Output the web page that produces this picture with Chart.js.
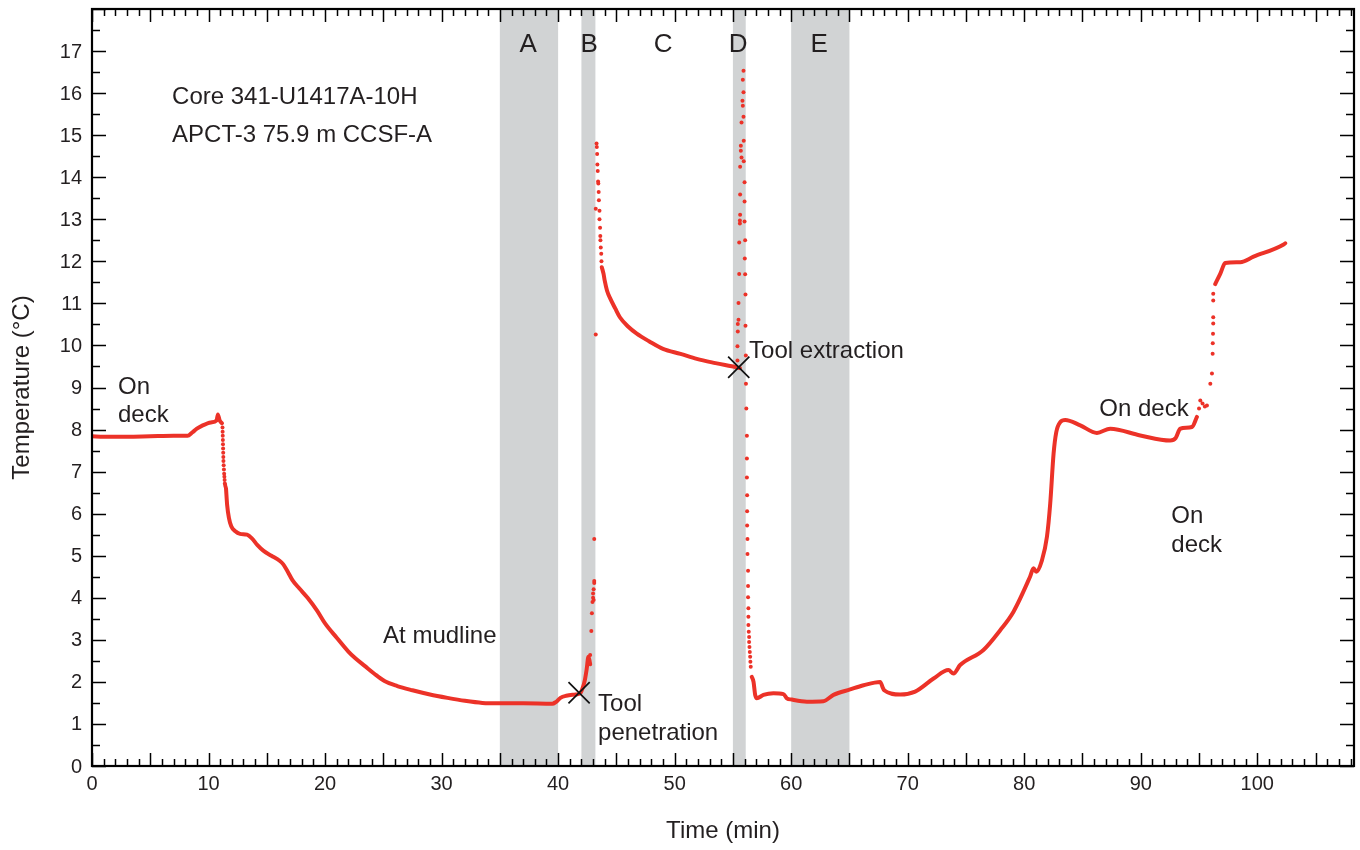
<!DOCTYPE html>
<html>
<head>
<meta charset="utf-8">
<script src="https://cdn.jsdelivr.net/npm/chart.js@4.4.1/dist/chart.umd.min.js"></script>
<style>
html,body{margin:0;padding:0;background:#fff;}
#wrap{width:1360px;height:850px;position:relative;}
</style>
</head>
<body>
<div id="wrap"><canvas id="c" width="1360" height="850"></canvas></div>
<script>
// ---- Data ----
// Continuous trace segments (null separates segments)
const traceX = [0, 1, 3, 5, 7, 8.2, 8.6, 9.0, 9.5, 10.2, 10.7, 10.8, 10.95, 11.15, null,
  11.5, 11.6, 11.75, 11.95, 12.3, 12.7, 13.3, 13.7, 14.2, 14.7, 15.4, 16.1, 16.4, 16.8, 17.2, 17.8, 18.5, 19.3, 20.0, 21.0, 22.0, 22.6, 23.4, 24.2, 25.1, 26.2, 27.5, 29, 30.5, 32, 33.5, 35, 37, 39.5, 39.8, 40.2, 40.7, 41.5, 41.9, 42.1, 42.3, 42.45, 42.6, 42.7, 42.75, null,
  43.75, 43.9, 44.0, 44.2, 44.5, 44.9, 45.3, 46.0, 46.75, 47.8, 49.0, 50.5, 51.9, 53.5, 55.3, 55.6, null,
  56.62, 56.77, 56.91, 57.05, 57.62, 58.48, 59.34, 59.63, 60.06, 61.35, 62.77, 63.63, 65.06, 66.21, 67.64, 67.87, 67.98, 69.36, 70.64, 72.22, 73.5, 73.93, 74.5, 76.5, 77.94, 79.08, 80.5, 80.8, 81.03, 81.52, 81.95, 82.23, 82.52, 82.75, 83.1, 83.52, 84.81, 86.24, 87.38, 89.96, 92.53, 93.0, 93.39, 94.39, 94.82, null,
  96.39, 96.82, 97.25, 98.54, 99.68, 102.26, 102.4];
const traceY = [7.84, 7.83, 7.83, 7.84, 7.85, 7.85, 7.93, 8.02, 8.1, 8.17, 8.22, 8.36, 8.22, 8.15, null,
  6.6, 6.2, 5.9, 5.7, 5.58, 5.52, 5.5, 5.42, 5.25, 5.12, 5.0, 4.88, 4.8, 4.62, 4.42, 4.22, 4.0, 3.7, 3.39, 3.05, 2.72, 2.56, 2.38, 2.2, 2.02, 1.9, 1.8, 1.7, 1.62, 1.55, 1.5, 1.49, 1.49, 1.48, 1.52, 1.62, 1.67, 1.7, 1.73, 1.85, 2.05, 2.3, 2.6, 2.5, 2.42, null,
  11.86, 11.7, 11.54, 11.3, 11.1, 10.88, 10.67, 10.45, 10.28, 10.1, 9.92, 9.8, 9.68, 9.58, 9.48, 9.46, null,
  2.12, 2.0, 1.69, 1.61, 1.69, 1.73, 1.71, 1.61, 1.58, 1.53, 1.54, 1.69, 1.82, 1.92, 2.0, 1.86, 1.8, 1.7, 1.77, 2.08, 2.28, 2.2, 2.4, 2.76, 3.23, 3.67, 4.5, 4.7, 4.62, 4.89, 5.45, 6.24, 7.43, 7.94, 8.18, 8.23, 8.1, 7.92, 8.02, 7.86, 7.74, 7.8, 8.02, 8.06, 8.3, null,
  11.46, 11.7, 11.96, 11.98, 12.11, 12.4, 12.43];

// Sparse individual samples during fast temperature changes
const dotsX = [11.2, 11.21, 11.22, 11.23, 11.24, 11.25, 11.26, 11.27, 11.28, 11.3, 11.32, 11.34, 11.36, 11.38, 11.4, 11.43, 11.46,
  42.75, 42.85, 42.9, 42.95, 43.0, 43.0, 43.05, 43.1, 43.1, 43.05, 43.1, 43.23, 43.23,
  43.3, 43.32, 43.35, 43.37, 43.4, 43.43, 43.45, 43.48, 43.5, 43.55, 43.55, 43.6, 43.62, 43.63, 43.66, 43.7, 43.72,
  55.91, 55.85, 55.91, 55.82, 55.85, 55.91, 55.74, 55.93, 55.68, 55.68, 55.74, 55.93, 55.62, 56.0, 55.62, 56.0, 55.62, 55.6, 56.0, 55.6, 55.54, 56.05, 56.02, 55.54, 56.05, 56.08, 55.48, 55.48, 55.42, 56.08, 55.42, 55.39, 55.39, 56.11, 56.12, 56.15,
  56.2, 56.2, 56.2, 56.22, 56.22, 56.22, 56.25, 56.25, 56.3, 56.3, 56.3, 56.33, 56.33, 56.33, 56.36, 56.39, 56.39, 56.42, 56.45, 56.48, 56.5, 56.53,
  95.0, 95.11, 95.3, 95.5, 95.68, 95.97, 96.11, 96.17, 96.18, 96.2, 96.22, 96.22, 96.22, 96.22];
const dotsY = [8.05, 7.95, 7.85, 7.75, 7.65, 7.55, 7.45, 7.35, 7.25, 7.15, 7.05, 6.95, 6.88, 6.8, 6.72, 6.68, 6.64,
  2.64, 3.21, 3.63, 3.9, 4.0, 4.1, 4.2, 4.35, 4.4, 3.95, 5.4, 13.25, 10.26,
  14.8, 14.72, 14.55, 14.3, 14.15, 13.9, 13.85, 13.65, 13.45, 13.2, 13.0, 12.8, 12.6, 12.5, 12.33, 12.18, 12.0,
  16.53, 16.32, 16.02, 15.82, 15.7, 15.44, 15.3, 14.87, 14.75, 14.63, 14.47, 14.38, 14.25, 13.88, 13.59, 13.42, 13.11, 12.97, 12.95, 12.9, 12.45, 12.5, 12.07, 11.7, 11.69, 11.21, 11.01, 10.61, 10.51, 10.47, 10.33, 9.98, 9.64, 9.76, 9.09, 8.5,
  7.85, 7.31, 6.86, 6.44, 6.06, 5.72, 5.4, 5.04, 4.64, 4.28, 4.01, 3.75, 3.55, 3.35, 3.19, 3.07, 2.95, 2.83, 2.71, 2.6, 2.48, 2.36,
  8.5, 8.69, 8.62, 8.55, 8.57, 9.09, 9.33, 9.8, 10.05, 10.28, 10.52, 10.67, 11.07, 11.23];

// Tool penetration / extraction markers
const markerX = [41.8, 55.5];
const markerY = [1.74, 9.48];

// Shaded intervals and their labels
const bandStart = [35, 42, 55, 60];
const bandEnd = [40, 43.2, 56.1, 65];
const bandLabels = ['A', 'B', 'C', 'D', 'E'];
const bandLabelX = [37.42, 42.66, 49.01, 55.45, 62.4];

// Axis ticks
const xTickValues = [0, 10, 20, 30, 40, 50, 60, 70, 80, 90, 100];
const yTickValues = [0, 1, 2, 3, 4, 5, 6, 7, 8, 9, 10, 11, 12, 13, 14, 15, 16, 17];

// ---- Rendering ----
const RED = '#ec3228';
const TXT = '#231f20';
const FONT = '"Liberation Sans", Arial, Helvetica, sans-serif';

function pts(xs, ys) {
  return xs.map((x, i) => ({ x: x === null ? NaN : x, y: ys[i] === null ? NaN : ys[i] }));
}

const annotations = [
  { t: 'Core 341-U1417A-10H', x: 6.87, y: 15.89 },
  { t: 'APCT-3 75.9 m CCSF-A', x: 6.87, y: 14.99 },
  { t: 'On', x: 2.23, y: 9.0 },
  { t: 'deck', x: 2.23, y: 8.34 },
  { t: 'At mudline', x: 24.98, y: 3.09 },
  { t: 'Tool', x: 43.43, y: 1.47 },
  { t: 'penetration', x: 43.43, y: 0.78 },
  { t: 'Tool extraction', x: 56.39, y: 9.86 },
  { t: 'On deck', x: 86.44, y: 8.48 },
  { t: 'On', x: 92.62, y: 5.94 },
  { t: 'deck', x: 92.62, y: 5.25 }
];

const decor = {
  id: 'decor',
  beforeDatasetsDraw(chart) {
    const { ctx, chartArea: a, scales: { x, y } } = chart;
    ctx.save();
    ctx.fillStyle = '#d1d3d4';
    for (let i = 0; i < bandStart.length; i++) {
      const x0 = x.getPixelForValue(bandStart[i]);
      const x1 = x.getPixelForValue(bandEnd[i]);
      ctx.fillRect(x0, a.top, x1 - x0, a.bottom - a.top);
    }
    ctx.restore();
  },
  afterDraw(chart) {
    const { ctx, chartArea: a, scales: { x, y } } = chart;
    ctx.save();
    // ticks (inward) on all four sides
    ctx.strokeStyle = '#000';
    ctx.lineWidth = 1.5;
    ctx.beginPath();
    for (let v = 0; v <= 108; v++) {
      const px = Math.round(x.getPixelForValue(v)) + 0.5;
      const len = v % 5 === 0 ? 13 : 7;
      ctx.moveTo(px, a.bottom); ctx.lineTo(px, a.bottom - len);
      ctx.moveTo(px, a.top); ctx.lineTo(px, a.top + len);
    }
    for (let v = 0; v <= 18; v += 0.5) {
      const py = Math.round(y.getPixelForValue(v)) + 0.5;
      const len = Number.isInteger(v) ? 14 : 8;
      ctx.moveTo(a.left, py); ctx.lineTo(a.left + len, py);
      ctx.moveTo(a.right, py); ctx.lineTo(a.right - len, py);
    }
    ctx.stroke();
    // frame
    ctx.lineWidth = 2.2;
    ctx.strokeRect(a.left, a.top, a.right - a.left, a.bottom - a.top);

    ctx.fillStyle = TXT;
    ctx.textBaseline = 'middle';
    // tick labels
    ctx.font = '20px ' + FONT;
    ctx.textAlign = 'center';
    xTickValues.forEach(v => ctx.fillText(String(v), x.getPixelForValue(v), a.bottom + 18));
    ctx.textAlign = 'right';
    yTickValues.forEach(v => ctx.fillText(String(v), a.left - 10, y.getPixelForValue(v) + 1));

    // annotations
    ctx.font = '24px ' + FONT;
    ctx.textAlign = 'left';
    annotations.forEach(an => {
      ctx.fillText(an.t, x.getPixelForValue(an.x), y.getPixelForValue(an.y));
    });
    ctx.font = '26px ' + FONT;
    ctx.textAlign = 'center';
    bandLabels.forEach((l, i) => {
      ctx.fillText(l, x.getPixelForValue(bandLabelX[i]), y.getPixelForValue(17.15));
    });
    // axis titles
    ctx.font = '24px ' + FONT;
    ctx.fillText('Time (min)', (a.left + a.right) / 2, 831);
    ctx.translate(22, (a.top + a.bottom) / 2);
    ctx.rotate(-Math.PI / 2);
    ctx.fillText('Temperature (\u00B0C)', 0, 0);
    ctx.restore();
  }
};

new Chart(document.getElementById('c'), {
  type: 'scatter',
  data: {
    datasets: [
      {
        data: pts(traceX, traceY),
        showLine: true,
        spanGaps: false,
        borderColor: RED,
        borderWidth: 4,
        borderCapStyle: 'round',
        borderJoinStyle: 'round',
        cubicInterpolationMode: 'monotone',
        pointRadius: 0,
        order: 2
      },
      {
        data: pts(dotsX, dotsY),
        showLine: false,
        pointRadius: 2,
        pointBackgroundColor: RED,
        pointBorderWidth: 0,
        order: 3
      },
      {
        data: pts(markerX, markerY),
        showLine: false,
        pointStyle: 'crossRot',
        pointRadius: 15,
        pointBorderColor: '#111',
        pointBorderWidth: 1.7,
        order: 1
      }
    ]
  },
  options: {
    responsive: false,
    animation: false,
    events: [],
    layout: { autoPadding: false, padding: { top: 9, right: 6, left: 0, bottom: 0 } },
    plugins: { legend: { display: false }, tooltip: { enabled: false } },
    scales: {
      x: {
        type: 'linear',
        min: 0,
        max: 108.3,
        afterBuildTicks(s) { s.ticks = xTickValues.map(v => ({ value: v })); },
        afterFit(s) { s.height = 84; },
        grid: { display: false, drawTicks: false },
        border: { display: false },
        ticks: { display: false }
      },
      y: {
        type: 'linear',
        min: 0,
        max: 18,
        afterBuildTicks(s) { s.ticks = yTickValues.map(v => ({ value: v })); },
        afterFit(s) { s.width = 92; },
        grid: { display: false, drawTicks: false },
        border: { display: false },
        ticks: { display: false }
      }
    }
  },
  plugins: [decor]
});
</script>
</body>
</html>
